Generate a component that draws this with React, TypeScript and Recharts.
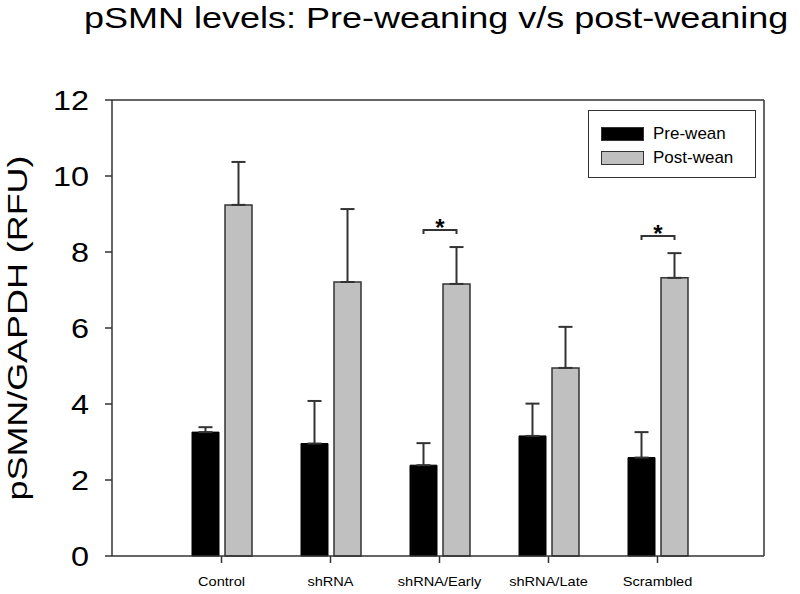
import React from 'react'
import {
    BarChart,
    Bar,
    XAxis,
    YAxis,
    CartesianGrid,
    ErrorBar,
    LabelList,
    Legend
} from 'recharts'

const categories = ['Control', 'shRNA', 'shRNA/Early', 'shRNA/Late', 'Scrambled']
const preWean = [3.26, 2.96, 2.39, 3.16, 2.59]
const preWeanErr = [0.13, 1.12, 0.58, 0.85, 0.67]
const postWean = [9.24, 7.21, 7.16, 4.95, 7.32]
const postWeanErr = [1.13, 1.92, 0.97, 1.08, 0.65]
// height of the significance bracket, null where there is none
const sigLevel: (number | null)[] = [null, null, 8.58, null, 8.42]
const yTicks = [0, 2, 4, 6, 8, 10, 12]

const data = categories.map((name, i) => ({
    name,
    pre: preWean[i],
    preErr: [0, preWeanErr[i]],
    post: postWean[i],
    postErr: [0, postWeanErr[i]],
    sig: sigLevel[i]
}))

const FONT = '"Liberation Sans", Arial, sans-serif'
const INK = '#333333'
const GREY = '#c0c0c0'
const BAR_SIZE = 27
const BAR_GAP = 6

const YTick = (props: any) => {
    const { x, y, payload } = props
    return (
        <text
            transform={`translate(${x},${y}) scale(1.2,1)`}
            textAnchor="end"
            dominantBaseline="central"
            fontSize={27}
            fontFamily={FONT}
            fill="#000"
        >
            {payload.value}
        </text>
    )
}

const XTick = (props: any) => {
    const { x, y, payload } = props
    return (
        <text
            transform={`translate(${x},${y}) scale(1.08,1)`}
            textAnchor="middle"
            dy="0.71em"
            fontSize={13.5}
            fontFamily={FONT}
            fill="#000"
        >
            {payload.value}
        </text>
    )
}

const renderSig = (props: any) => {
    const { x, y, width, height, value, index } = props
    if (value == null) return null
    const perUnit = height / postWean[index]
    const yy = y + height - value * perUnit
    const x1 = x - BAR_GAP - BAR_SIZE / 2
    const x2 = x + width / 2
    return (
        <g>
            <path d={`M${x1},${yy + 4} V${yy} H${x2} V${yy + 4}`} fill="none" stroke={INK} strokeWidth={2} />
            <text
                x={(x1 + x2) / 2}
                y={yy + 6}
                textAnchor="middle"
                fontSize={24}
                fontWeight="bold"
                fontFamily={FONT}
                fill="#000"
            >
                *
            </text>
        </g>
    )
}

const LegendBox = () => (
    <div
        style={{
            width: 166,
            height: 66,
            border: `1.5px solid ${INK}`,
            fontFamily: FONT,
            fontSize: 17,
            position: 'relative',
            background: '#fff'
        }}
    >
        {[
            { label: 'Pre-wean', fill: '#000', top: 16 },
            { label: 'Post-wean', fill: GREY, top: 40 }
        ].map((item) => (
            <div key={item.label} style={{ position: 'absolute', left: 12, top: item.top, display: 'flex', alignItems: 'center' }}>
                <div style={{ width: 41, height: 12, background: item.fill, border: `1px solid ${INK}` }} />
                <span style={{ marginLeft: 9, lineHeight: '14px' }}>{item.label}</span>
            </div>
        ))}
    </div>
)

export default function App() {
    return (
        <div style={{ position: 'absolute', left: 0, top: 0, width: 800, height: 594, overflow: 'hidden', background: '#fff' }}>
            <div
                style={{
                    position: 'absolute',
                    left: 84,
                    top: 3,
                    fontFamily: FONT,
                    fontSize: 30,
                    lineHeight: '30px',
                    whiteSpace: 'nowrap',
                    transform: 'scaleX(1.2)',
                    transformOrigin: 'left top',
                    color: '#000'
                }}
            >
                pSMN levels: Pre-weaning v/s post-weaning
            </div>
            <BarChart
                width={800}
                height={594}
                data={data}
                margin={{ top: 100, right: 36, left: 0, bottom: 0 }}
                barGap={BAR_GAP}
            >
                <CartesianGrid
                    stroke={INK}
                    strokeWidth={1.5}
                    horizontalCoordinatesGenerator={({ offset }: any) => [offset.top]}
                    verticalCoordinatesGenerator={({ offset }: any) => [offset.left + offset.width]}
                />
                <XAxis
                    dataKey="name"
                    height={38}
                    padding={{ left: 55, right: 52 }}
                    stroke={INK}
                    strokeWidth={1.5}
                    tickSize={7}
                    tickMargin={13}
                    tick={<XTick />}
                    interval={0}
                />
                <YAxis
                    width={112}
                    domain={[0, 12]}
                    ticks={yTicks}
                    stroke={INK}
                    strokeWidth={1.5}
                    tickSize={7}
                    tickMargin={16}
                    tick={<YTick />}
                    label={{
                        content: () => (
                            <text
                                x={27}
                                y={328}
                                transform="rotate(-90 27 328)"
                                textAnchor="middle"
                                fontSize={28}
                                fontFamily={FONT}
                                fill="#000"
                                textLength={345}
                                lengthAdjust="spacingAndGlyphs"
                            >
                                pSMN/GAPDH (RFU)
                            </text>
                        )
                    }}
                />
                <Legend
                    layout="horizontal"
                    verticalAlign="middle"
                    align="center"
                    wrapperStyle={{ left: 588, top: 110, width: 170, height: 70 }}
                    content={() => <LegendBox />}
                />
                <Bar dataKey="pre" name="Pre-wean" fill="#000" stroke="#000" barSize={BAR_SIZE} isAnimationActive={false}>
                    <ErrorBar dataKey="preErr" width={7} stroke={INK} strokeWidth={2} direction="y" />
                </Bar>
                <Bar
                    dataKey="post"
                    name="Post-wean"
                    fill={GREY}
                    stroke={INK}
                    strokeWidth={1.5}
                    barSize={BAR_SIZE}
                    isAnimationActive={false}
                >
                    <ErrorBar dataKey="postErr" width={7} stroke={INK} strokeWidth={2} direction="y" />
                    <LabelList dataKey="sig" content={renderSig} />
                </Bar>
            </BarChart>
        </div>
    )
}
